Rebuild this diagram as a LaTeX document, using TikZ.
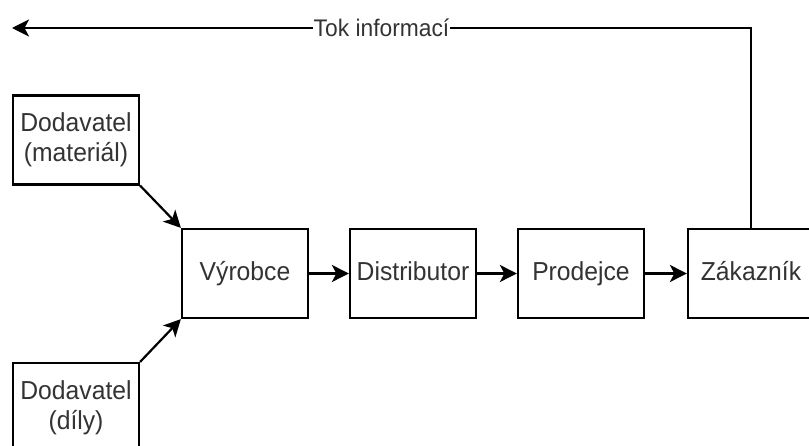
\documentclass[tikz,border=0pt]{standalone}
\usepackage{fontspec}
\setmainfont[FakeStretch=0.95]{Liberation Sans}
\usetikzlibrary{arrows.meta}
\begin{document}
\begin{tikzpicture}[x=1pt,y=-1pt,
  box/.style={draw, line width=2.2pt, minimum width=126pt, minimum height=89pt, inner sep=0pt,
    font=\fontsize{26}{30}\selectfont, align=center, text=black!80},
  onebox/.style={box, text height=19pt, text depth=5pt},
  flow/.style={line width=2.2pt, -{Stealth[length=17pt,width=17pt,inset=4.5pt]}}]
\clip (0,0) rectangle (809,446);
\fill[white] (0,0) rectangle (809,446);
\node[onebox] (v) at (245,273.5) {Výrobce};
\node[onebox] (d) at (413,273.5) {Distributor};
\node[onebox] (p) at (581,273.5) {Prodejce};
\node[onebox] (z) at (751,273.5) {Zákazník};
\node[box] (dm) at (76,140) {Dodavatel\\(materiál)};
\node[box] (dd) at (76,407.5) {Dodavatel\\(díly)};
\coordinate (tip) at (12,28);
\draw[flow] (v) -- (d);
\draw[flow] (d) -- (p);
\draw[flow] (p) -- (z);
\draw[flow] (dm.south east) -- (v.north west);
\draw[flow] (dd.north east) -- (v.south west);
\draw[flow] (z.north) |- node[pos=0.75, fill=white, inner sep=1pt, font=\fontsize{24}{28}\selectfont, text=black!80] (lbl) {Tok informací} (tip);
\end{tikzpicture}
\end{document}
